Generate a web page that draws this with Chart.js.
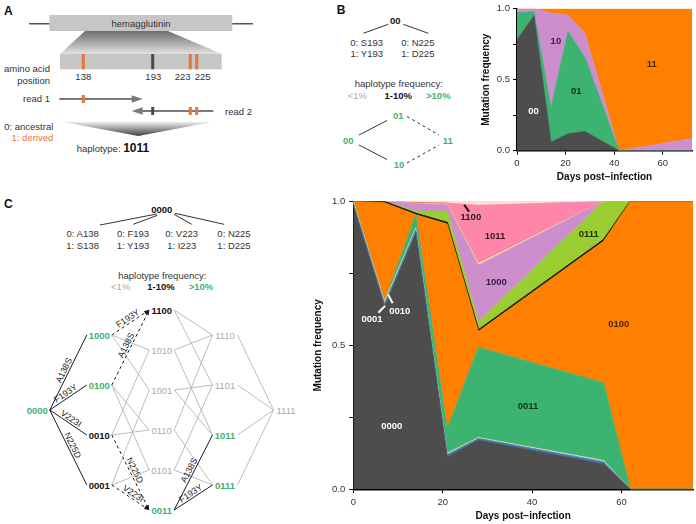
<!DOCTYPE html>
<html>
<head>
<meta charset="utf-8">
<script src="https://cdn.jsdelivr.net/npm/chart.js@4.4.0/dist/chart.umd.min.js"></script>
<style>
  body { margin: 0; background: #fff; }
  #wrap { position: relative; width: 696px; height: 524px; }
  #wrap svg, #wrap canvas { position: absolute; }
  #diagram { left: 0; top: 0; }
  #chartB { left: 470px; top: 0; }
  #chartC { left: 300px; top: 190px; }
</style>
</head>
<body>
<div id="wrap">
  <svg id="diagram" width="696" height="524"></svg>
  <canvas id="chartB" width="226" height="190"></canvas>
  <canvas id="chartC" width="396" height="334"></canvas>
</div>
<script>
const FONT = "'Liberation Sans', Arial, sans-serif";

// Panel B: haplotypes over sites 193 and 225
const daysB = [0, 7, 14, 21, 28, 42, 72];
const hapsB = ['00', '01', '10', '11'];
const freqB00 = [0.78, 0.95, 0.06, 0.12, 0.135, 0, 0];
const freqB01 = [0.19, 0.03, 0.24, 0.72, 0.52, 0, 0];
const freqB10 = [0.03, 0.02, 0.67, 0.114, 0.169, 0, 0.085];
const freqB11 = [0, 0, 0.03, 0.046, 0.176, 1.0, 0.915];
const colorsB = ['#4d4d4d', '#3cb371', '#cc8ecc', '#ff8000'];

// Panel C: haplotypes over sites 138, 193, 223, 225
const daysC = [0, 7, 14, 21, 28, 56, 62, 76];
const hapsC = ['0000', '0001', '0010', '0011', '0100', '0101', '0111', '1000', '1001', '1010', '1011', '1100', '1110'];
const freqC0000 = [0.985, 0.635, 0.89, 0.113, 0.171, 0.088, 0, 0];
const freqC0001 = [0.009, 0.01, 0.012, 0.008, 0.006, 0.008, 0, 0];
const freqC0010 = [0.006, 0.007, 0.006, 0.004, 0.003, 0.004, 0, 0];
const freqC0011 = [0, 0, 0.045, 0.085, 0.313, 0.27, 0, 0];
const freqC0100 = [0, 0.343, 0, 0.711, 0.055, 0.491, 1, 1];
const freqC0101 = [0, 0.003, 0.005, 0.005, 0.005, 0.005, 0, 0];
const freqC0111 = [0, 0, 0.008, 0.04, 0.029, 0.134, 0, 0];
const freqC1000 = [0, 0.002, 0.026, 0.022, 0.197, 0, 0, 0];
const freqC1001 = [0, 0, 0, 0.002, 0.004, 0, 0, 0];
const freqC1010 = [0, 0, 0.004, 0.004, 0.004, 0, 0, 0];
const freqC1011 = [0, 0, 0, 0, 0.199, 0, 0, 0];
const freqC1100 = [0, 0, 0.004, 0.004, 0.01, 0, 0, 0];
const freqC1110 = [0, 0, 0, 0.002, 0.004, 0, 0, 0];
const colorsC = ['#4d4d4d', '#3b7fc4', '#eadc9a', '#3cb371', '#ff8000', '#1e1e1e', '#9acd32',
                 '#cc8ecc', '#fff3d6', '#f08a3c', '#ff86ab', '#fde2c4', '#f3c9dc'];

// Axis ticks
const xTicks = [0, 20, 40, 60];
const xTickLabels = ['0', '20', '40', '60'];
const yTicks = [0, 0.25, 0.5, 0.75, 1];
const yTickLabels = ['0.0', '', '0.5', '', '1.0'];

// In-chart labels (data coordinates)
const areaLabelsB = [
    { text: '00', x: 6.8, y: 0.275, color: '#ffffff' },
    { text: '10', x: 16, y: 0.77, color: '#3a2140' },
    { text: '01', x: 24.4, y: 0.417, color: '#10301c' },
    { text: '11', x: 55.4, y: 0.607, color: '#4a2600' }
];
const areaLabelsC = [
    { text: '0000', x: 8.6, y: 0.22, color: '#ffffff' },
    { text: '0011', x: 39.1, y: 0.287, color: '#10301c' },
    { text: '0100', x: 59.4, y: 0.574, color: '#4a2600' },
    { text: '1000', x: 32, y: 0.719, color: '#3a2140' },
    { text: '1011', x: 31.7, y: 0.877, color: '#3a1020' },
    { text: '0111', x: 52.7, y: 0.886, color: '#1e3000' },
    { text: '1100', x: 26.3, y: 0.943, color: '#222222' },
    { text: '0001', x: 4.2, y: 0.59, color: '#ffffff' },
    { text: '0010', x: 10.4, y: 0.619, color: '#ffffff' }
];
const pointersC = [
    { x1: 24.8, y1: 0.988, x2: 25.9, y2: 0.964, color: '#111111' },
    { x1: 5.6, y1: 0.613, x2: 7.1, y2: 0.637, color: '#ffffff' },
    { x1: 7.8, y1: 0.676, x2: 8.8, y2: 0.646, color: '#ffffff' }
];

// Labels drawn on top of the areas
function areaLabelPlugin(labels, pointers) {
    return {
        id: 'areaLabels',
        afterDatasetsDraw(chart) {
            const { ctx, scales: { x, y } } = chart;
            ctx.save();
            pointers.forEach(p => {
                ctx.strokeStyle = p.color;
                ctx.lineWidth = 2;
                ctx.beginPath();
                ctx.moveTo(x.getPixelForValue(p.x1), y.getPixelForValue(p.y1));
                ctx.lineTo(x.getPixelForValue(p.x2), y.getPixelForValue(p.y2));
                ctx.stroke();
            });
            ctx.font = 'bold 9.5px ' + FONT;
            ctx.textAlign = 'center';
            ctx.textBaseline = 'middle';
            labels.forEach(l => {
                ctx.fillStyle = l.color;
                ctx.fillText(l.text, x.getPixelForValue(l.x), y.getPixelForValue(l.y));
            });
            ctx.restore();
        }
    };
}

// Stacked area chart of haplotype frequencies
function drawStackedArea(canvasId, days, series, names, colors, cfg) {
    const datasets = series.map((vals, i) => ({
        label: names[i],
        data: days.map((d, j) => ({ x: d, y: vals[j] })),
        backgroundColor: colors[i],
        borderColor: colors[i],
        borderWidth: names[i] === '0101' ? 1.6 : 0.8,
        fill: i === 0 ? 'origin' : '-1',
        pointRadius: 0,
        tension: 0
    }));

    const tickFont = { family: FONT, size: 9.5 };
    const titleFont = { family: FONT, size: 10, weight: 'bold' };

    return new Chart(document.getElementById(canvasId), {
        type: 'line',
        data: { datasets },
        options: {
            responsive: false,
            animation: false,
            layout: { padding: cfg.padding },
            scales: {
                x: {
                    type: 'linear',
                    min: 0,
                    max: cfg.xMax,
                    afterBuildTicks: s => { s.ticks = xTicks.map(v => ({ value: v })); },
                    afterFit: s => { s.height = cfg.xAxisHeight; },
                    grid: { drawOnChartArea: false, drawTicks: true, tickLength: 4, color: '#000', lineWidth: 1 },
                    border: { display: true, color: '#000', width: 1.5 },
                    ticks: { font: tickFont, color: '#333', padding: 3, maxRotation: 0,
                             callback: (v, i) => xTickLabels[i] },
                    title: { display: true, text: 'Days post\u2212infection', font: titleFont, color: '#111',
                             padding: { top: 0, bottom: cfg.xTitlePad } }
                },
                y: {
                    stacked: true,
                    min: 0,
                    max: 1,
                    afterBuildTicks: s => { s.ticks = yTicks.map(v => ({ value: v })); },
                    afterFit: s => { s.width = cfg.yAxisWidth; },
                    grid: { drawOnChartArea: false, drawTicks: true, tickLength: 4, color: '#000', lineWidth: 1 },
                    border: { display: true, color: '#000', width: 1.5 },
                    ticks: { font: tickFont, color: '#333', padding: cfg.yTickPad,
                             callback: (v, i) => yTickLabels[i] },
                    title: { display: true, text: 'Mutation frequency', font: titleFont, color: '#111',
                             padding: { top: cfg.yTitlePad, bottom: 0 } }
                }
            },
            plugins: {
                legend: { display: false },
                tooltip: { enabled: false }
            }
        },
        plugins: [areaLabelPlugin(cfg.labels, cfg.pointers)]
    });
}

drawStackedArea('chartB', daysB, [freqB00, freqB01, freqB10, freqB11], hapsB, colorsB, {
    xMax: 72, padding: { top: 5, right: 4, left: 0, bottom: 0 },
    xAxisHeight: 39.3, yAxisWidth: 47, xTitlePad: 7, yTitlePad: 10, yTickPad: 3,
    labels: areaLabelsB, pointers: []
});

drawStackedArea('chartC', daysC,
    [freqC0000, freqC0001, freqC0010, freqC0011, freqC0100, freqC0101, freqC0111,
     freqC1000, freqC1001, freqC1010, freqC1011, freqC1100, freqC1110],
    hapsC, colorsC, {
    xMax: 76, padding: { top: 11.3, right: 3, left: 0, bottom: 0 },
    xAxisHeight: 34.7, yAxisWidth: 53.3, xTitlePad: 1.5, yTitlePad: 12, yTickPad: 4,
    labels: areaLabelsC, pointers: pointersC
});

// ---------- Diagrams (SVG) ----------
const NS = 'http://www.w3.org/2000/svg';
const svg = document.getElementById('diagram');
const GREEN = '#3cb371';
const ORANGE = '#e8743b';

function el(tag, attrs, parent = svg) {
    const e = document.createElementNS(NS, tag);
    for (const k in attrs) e.setAttribute(k, attrs[k]);
    parent.appendChild(e);
    return e;
}
function text(x, y, str, o = {}, parent = svg) {
    const t = el('text', {
        x, y, 'font-family': FONT, 'font-size': o.size || 9.5,
        'font-weight': o.bold ? 'bold' : 'normal', fill: o.color || '#333',
        'text-anchor': o.anchor || 'middle', 'dominant-baseline': o.baseline || 'central'
    }, parent);
    t.textContent = str;
    return t;
}
function line(x1, y1, x2, y2, o = {}) {
    const a = { x1, y1, x2, y2, stroke: o.color || '#333', 'stroke-width': o.width || 1 };
    if (o.dash) a['stroke-dasharray'] = o.dash;
    return el('line', a);
}
function poly(pts, fill) {
    return el('polygon', { points: pts.map(p => p.join(',')).join(' '), fill });
}

// gradients
const defs = el('defs', {});
const g1 = el('linearGradient', { id: 'fanDown', x1: 0, y1: 0, x2: 0, y2: 1 }, defs);
el('stop', { offset: 0, 'stop-color': '#6e6e6e' }, g1);
el('stop', { offset: 1, 'stop-color': '#e2e2e2' }, g1);
const g2 = el('linearGradient', { id: 'fanUp', x1: 0, y1: 0, x2: 0, y2: 1 }, defs);
el('stop', { offset: 0, 'stop-color': '#f2f2f2' }, g2);
el('stop', { offset: 1, 'stop-color': '#404040' }, g2);

// Panel A
text(4, 11, 'A', { bold: true, size: 12, anchor: 'start', color: '#111' });
line(29, 23.7, 253, 23.7, { color: '#555', width: 1.5 });
el('rect', { x: 49.3, y: 15, width: 183, height: 16, fill: '#c6c6c6' });
text(141, 23.5, 'hemagglutinin');
poly([[85, 31], [168, 31], [222, 54], [60, 54]], 'url(#fanDown)');
el('rect', { x: 60, y: 54, width: 161.7, height: 15.3, fill: '#c6c6c6' });

const aaSites = [138, 193, 223, 225];
const aaX = [83.3, 152.7, 190.3, 196.7];
const aaColor = [ORANGE, '#4a4a4a', ORANGE, ORANGE];
const aaLabelX = [83.3, 153.3, 182.7, 202.7];
aaSites.forEach((s, i) => {
    el('rect', { x: aaX[i] - 1.5, y: 54, width: 3, height: 15.3, fill: aaColor[i] });
    text(aaLabelX[i], 76, String(s));
});
text(50, 68, 'amino acid', { anchor: 'end' });
text(50, 80, 'position', { anchor: 'end' });

// reads
text(50, 98.7, 'read 1', { anchor: 'end' });
line(59.3, 99, 134, 99, { color: '#7a7a7a', width: 2 });
poly([[131.7, 95.3], [142.7, 99], [131.7, 102.7]], '#7a7a7a');
el('rect', { x: 81.8, y: 95, width: 3, height: 8, fill: ORANGE });
line(213.3, 111, 140, 111, { color: '#7a7a7a', width: 2 });
poly([[142.7, 107.3], [131.7, 111], [142.7, 114.7]], '#7a7a7a');
el('rect', { x: 151.2, y: 107, width: 3, height: 8, fill: '#4a4a4a' });
el('rect', { x: 188.8, y: 107, width: 3, height: 8, fill: ORANGE });
el('rect', { x: 195.2, y: 107, width: 3, height: 8, fill: ORANGE });
text(225, 111, 'read 2', { anchor: 'start' });

text(53.3, 126.3, '0: ancestral', { anchor: 'end' });
text(53.3, 137.3, '1: derived', { anchor: 'end', color: ORANGE });
poly([[61.7, 121.7], [213.3, 121.7], [138.3, 136]], 'url(#fanUp)');
const hapA = text(76.7, 148, 'haplotype: ', { anchor: 'start' });
const tsp = el('tspan', { 'font-weight': 'bold', 'font-size': 12, fill: '#111' }, hapA);
tsp.textContent = '1011';

// Panel B diagram
text(336.7, 10, 'B', { bold: true, size: 12, anchor: 'start', color: '#111' });
text(395.3, 20, '00', { bold: true, color: '#111' });
line(363.3, 33.3, 388.3, 24.3);
line(403.3, 24.3, 428.3, 33.3);
text(366.7, 42.3, '0: S193');
text(366.7, 53.3, '1: Y193');
text(417.8, 42.3, '0: N225');
text(417.8, 53.3, '1: D225');
text(398.8, 83.3, 'haplotype frequency:');
text(357.3, 95, '<1%', { color: '#aaaaaa' });
text(398.3, 95, '1-10%', { bold: true, color: '#111' });
text(438.3, 95, '>10%', { bold: true, color: GREEN });

const nodesB = { '00': [348.3, 140], '01': [398.3, 115], '10': [399, 164.3], '11': [447.7, 140] };
Object.keys(nodesB).forEach(k => text(nodesB[k][0], nodesB[k][1], k, { bold: true, color: GREEN }));
line(359, 135, 387, 120.5);
line(359, 145, 387, 159.5);
line(407, 116.5, 439, 135, { dash: '3,3' });
line(407, 163, 439, 145, { dash: '3,3' });

// Panel C diagram
text(4, 204, 'C', { bold: true, size: 12, anchor: 'start', color: '#111' });
text(161.7, 209.3, '0000', { bold: true, color: '#111' });
line(100, 225, 156.7, 214);
line(133.3, 224.3, 157.3, 215.3);
line(174, 214.3, 191.7, 224.3);
line(175, 213.3, 224, 224.3);
const siteNames = [['0: A138', '1: S138'], ['0: F193', '1: Y193'], ['0: V223', '1: I223'], ['0: N225', '1: D225']];
const siteX = [82.7, 133, 181.7, 234];
siteNames.forEach((n, i) => { text(siteX[i], 233.3, n[0]); text(siteX[i], 245.3, n[1]); });
text(162.3, 275, 'haplotype frequency:');
text(120.7, 286.7, '<1%', { color: '#aaaaaa' });
text(161, 286.7, '1-10%', { bold: true, color: '#111' });
text(201, 286.7, '>10%', { bold: true, color: GREEN });

const latticeNodes = {
    '0000': [37.3, 410],
    '1000': [99.3, 335], '0100': [99.3, 385], '0010': [99.3, 435], '0001': [99.3, 485],
    '1100': [161.7, 310], '1010': [161.7, 350], '1001': [161.7, 390],
    '0110': [161.7, 430], '0101': [161.7, 470], '0011': [161.7, 510],
    '1110': [225, 335], '1101': [225, 385], '1011': [225, 435], '0111': [225, 485],
    '1111': [286, 410]
};
const highNodes = ['0000', '1000', '0100', '0011', '1011', '0111'];
const midNodes = ['0010', '0001', '1100'];
const mutations = ['A138S', 'F193Y', 'V223I', 'N225D'];
const solidEdges = ['0000-1000', '0000-0100', '0000-0010', '0000-0001', '0011-1011', '0011-0111'];
const dashedEdges = ['1000-1100', '0100-1100', '0010-0011', '0001-0011'];

// edges of the 4-site lattice
Object.keys(latticeNodes).forEach(from => {
    for (let b = 0; b < 4; b++) {
        if (from[b] !== '0') continue;
        const to = from.slice(0, b) + '1' + from.slice(b + 1);
        const key = from + '-' + to;
        const [sx, sy] = latticeNodes[from];
        const [tx, ty] = latticeNodes[to];
        const x1 = sx + 12.5, x2 = tx - 12.5;
        const solid = solidEdges.includes(key), dashed = dashedEdges.includes(key);
        if (!solid && !dashed) {
            line(x1, sy, x2, ty, { color: '#bdbdbd' });
            continue;
        }
        line(x1, sy, x2, ty, { color: '#1a1a1a', dash: dashed ? '3,3' : null });
        const ang = Math.atan2(ty - sy, x2 - x1) * 180 / Math.PI;
        if (dashed) {
            const g = el('g', { transform: `translate(${x2},${ty}) rotate(${ang})` });
            el('polygon', { points: '0,0 -5,-2 -5,2', fill: '#1a1a1a' }, g);
        }
        const mx = (x1 + x2) / 2, my = (sy + ty) / 2;
        const g = el('g', { transform: `translate(${mx},${my}) rotate(${ang})` });
        text(0, -2, mutations[b], { size: 8.8, color: '#222', baseline: 'auto' }, g);
    }
});
Object.keys(latticeNodes).forEach(k => {
    const [x, y] = latticeNodes[k];
    if (highNodes.includes(k)) text(x, y, k, { bold: true, color: GREEN });
    else if (midNodes.includes(k)) text(x, y, k, { bold: true, color: '#111' });
    else text(x, y, k, { color: '#aaaaaa' });
});
</script>
</body>
</html>
